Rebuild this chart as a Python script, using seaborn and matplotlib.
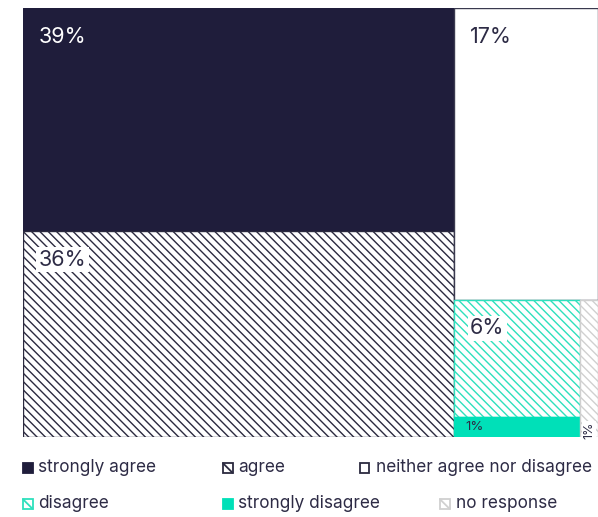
import matplotlib
matplotlib.use("Agg")
import matplotlib.pyplot as plt
from matplotlib.patches import Rectangle
from matplotlib.lines import Line2D
import seaborn as sns

categories = ["strongly agree", "agree", "neither agree nor disagree",
              "disagree", "strongly disagree", "no response"]
values = [39, 36, 17, 6, 1, 1]
pct_labels = ["39%", "36%", "17%", "6%", "1%", "1%"]
# nesting of the treemap (indices into values), alternating x / y splits
tree = [[0, 1], [2, [[3, 4], 5]]]

sns.set_theme(style="white")
plt.rcParams["font.family"] = ["Inter", "DejaVu Sans"]
plt.rcParams["hatch.linewidth"] = 1.0

NAVY = "#1f1d3b"
TEAL = "#00e0b8"
TXT = "#2d2b45"
HATCH = "\\\\\\\\"
styles = [
    dict(color=NAVY, edgecolor=NAVY, hatch=None),
    dict(color="white", edgecolor="#2b2a3f", hatch=HATCH),
    dict(color="white", edgecolor="#3a3a4f", hatch=None),
    dict(color="white", edgecolor="#2ee0bd", hatch=HATCH),
    dict(color=TEAL, edgecolor=TEAL, hatch=None),
    dict(color="white", edgecolor="#d0d0d0", hatch=HATCH),
]


def total(node):
    if isinstance(node, int):
        return values[node]
    return sum(total(n) for n in node)


rects = {}


def layout(node, x, y, w, h, horiz):
    if isinstance(node, int):
        rects[node] = (x, y, w, h)
        return
    t = total(node)
    pos = 0.0
    for child in node:
        f = total(child) / t
        if horiz:
            layout(child, x + pos * w, y, w * f, h, not horiz)
        else:
            layout(child, x, y + pos * h, w, h * f, not horiz)
        pos += f


layout(tree, 0, 0, 100, 100, True)

fig = plt.figure(figsize=(5.98, 5.17), dpi=100)
ax = fig.add_axes([23 / 598, 1 - 437 / 517, 575 / 598, 429 / 517])

for i in range(len(values)):
    x, y, w, h = rects[i]
    st = styles[i]
    ax.bar(x, h, width=w, bottom=y, align="edge", color=st["color"],
           edgecolor=st["edgecolor"], hatch=st["hatch"], linewidth=1.0)

ax.set_xlim(0, 100)
ax.set_ylim(100, 0)
ax.set_axis_off()

# labels
for i in [0, 1, 2, 3]:
    x, y, w, h = rects[i]
    col = "white" if i == 0 else TXT
    bbox = None
    if i in (1, 3):
        bbox = dict(boxstyle="square,pad=0.12", fc="white", ec="none")
    ax.annotate(pct_labels[i], (x, y), xytext=(11.5, -13.5),
                textcoords="offset points", color=col, bbox=bbox,
                fontsize=15.5, ha="left", va="top")

x, y, w, h = rects[4]
ax.annotate(pct_labels[4], (x, y + h / 2), xytext=(8, 0), textcoords="offset points",
            fontsize=9.5, ha="left", va="center", color=TXT)
x, y, w, h = rects[5]
ax.annotate(pct_labels[5], (x + w / 2, y + h), xytext=(0, -1.5), textcoords="offset points",
            fontsize=9, ha="center", va="bottom", rotation=90, color=TXT,
            bbox=dict(boxstyle="square,pad=0.05", fc="white", ec="none"))

# legend (manual flow layout like the reference)
W, H = 598, 517
item_x = [23, 223, 360, 23, 223, 440]
rows_y = [468, 504]
sq = 9.5
for i, name in enumerate(categories):
    r = i // 3
    xs = item_x[i]
    yc = rows_y[r]
    st = styles[i]
    ec = st["edgecolor"]
    if i == 2:
        ec = "#2b2a3f"
    x0, y0 = xs / W, 1 - (yc + sq / 2) / H
    x1, y1 = (xs + sq) / W, 1 - (yc - sq / 2) / H
    patch = Rectangle((x0, y0), x1 - x0, y1 - y0,
                      transform=fig.transFigure, facecolor=st["color"],
                      edgecolor=ec, linewidth=1.3)
    fig.patches.append(patch)
    if st["hatch"]:
        fig.lines.append(Line2D([x0, x1], [y1, y0], transform=fig.transFigure,
                                color=ec, linewidth=1.3))
    fig.text((xs + sq + 6) / W, 1 - yc / H, name, fontsize=12.4, color=TXT,
             ha="left", va="center")

fig.savefig("out.png", dpi=100)
